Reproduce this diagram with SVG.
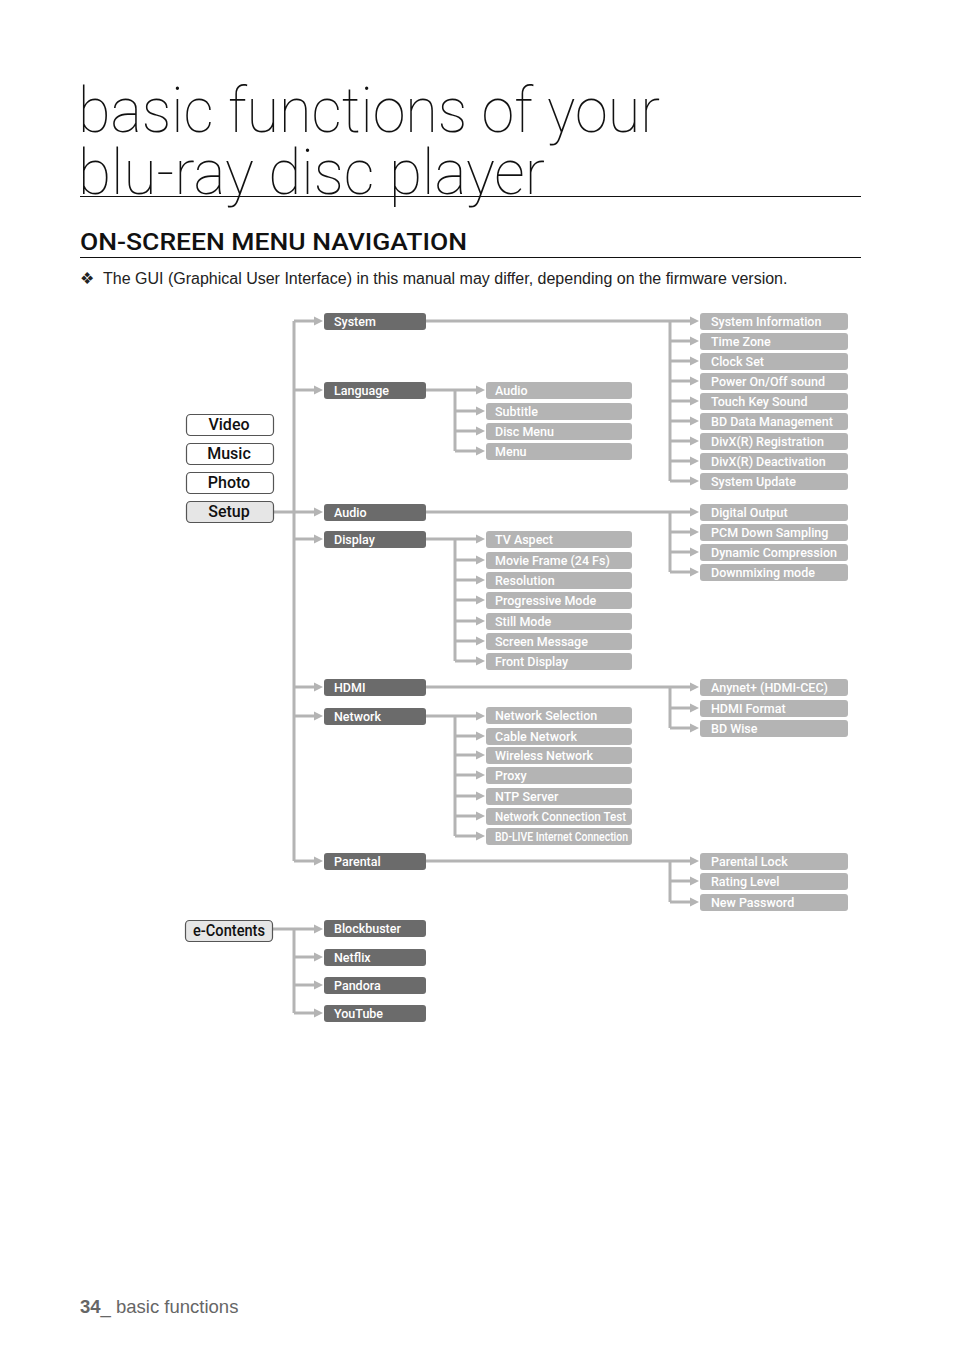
<svg xmlns="http://www.w3.org/2000/svg" width="954" height="1354" viewBox="0 0 954 1354">
<defs>
<marker id="ah" markerUnits="userSpaceOnUse" markerWidth="10" markerHeight="10" refX="5" refY="5" orient="auto"><path d="M0,0.5 L9,5 L0,9.5 z" fill="#b4b4b4"/></marker>
</defs>
<style>
.title{font-family:Roboto,"Liberation Sans",sans-serif;font-weight:100;font-size:63px;fill:#111}
.h2{font-family:Roboto,"Liberation Sans",sans-serif;font-weight:500;font-size:24px;fill:#111}
.note{font-family:"Liberation Sans",Arial,sans-serif;font-size:16px;fill:#222}
.foot{font-family:"Liberation Sans",Arial,sans-serif;font-size:18.5px;fill:#666}
.rule{stroke:#111;stroke-width:1.2}
.mode rect{fill:#fff;stroke:#555;stroke-width:1.2}
.mode.sel rect{fill:#e6e6e6}
.mode text{font-family:Roboto,"Liberation Sans",sans-serif;font-weight:500;font-size:16px;fill:#111;text-anchor:middle}
.dk rect{fill:#6b6b6b}
.lt rect{fill:#b4b4b4}
.dk text,.lt text{font-family:Roboto,"Liberation Sans",sans-serif;font-weight:500;font-size:12.5px;fill:#fff}
#connectors path{fill:none;stroke:#b4b4b4;stroke-width:3}
#connectors path.ar{marker-end:url(#ah)}
</style>
<rect width="954" height="1354" fill="#fff"/>
<text class="title" x="78" y="132" textLength="582" lengthAdjust="spacingAndGlyphs">basic functions of your</text>
<text class="title" x="78" y="194" textLength="467" lengthAdjust="spacingAndGlyphs">blu-ray disc player</text>
<line class="rule" x1="80" y1="196.5" x2="861" y2="196.5"/>
<text class="h2" x="80" y="250" textLength="387" lengthAdjust="spacingAndGlyphs">ON-SCREEN MENU NAVIGATION</text>
<line class="rule" x1="80" y1="257.5" x2="861" y2="257.5"/>
<text class="note" x="80" y="284">❖</text>
<text class="note" x="103" y="284">The GUI (Graphical User Interface) in this manual may differ, depending on the firmware version.</text>
<text class="foot" x="80" y="1313"><tspan font-weight="bold">34</tspan>_ basic functions</text>

<g id="connectors">
<path d="M294,321 V861"/>
<path d="M294,929 V1013"/>
<path class="ar" d="M294,321 H319"/>
<path class="ar" d="M294,390 H319"/>
<path class="ar" d="M273,512 H319"/>
<path class="ar" d="M294,539 H319"/>
<path class="ar" d="M294,687 H319"/>
<path class="ar" d="M294,716 H319"/>
<path class="ar" d="M294,861 H319"/>
<path class="ar" d="M272,929 H319"/>
<path class="ar" d="M294,957 H319"/>
<path class="ar" d="M294,985 H319"/>
<path class="ar" d="M294,1013 H319"/>
<path d="M670,321 V481"/>
<path class="ar" d="M426,321 H695"/>
<path class="ar" d="M670,341 H695"/>
<path class="ar" d="M670,361 H695"/>
<path class="ar" d="M670,381 H695"/>
<path class="ar" d="M670,401 H695"/>
<path class="ar" d="M670,421 H695"/>
<path class="ar" d="M670,441 H695"/>
<path class="ar" d="M670,461 H695"/>
<path class="ar" d="M670,481 H695"/>
<path d="M455,390 V451"/>
<path class="ar" d="M426,390 H481"/>
<path class="ar" d="M455,411 H481"/>
<path class="ar" d="M455,431 H481"/>
<path class="ar" d="M455,451 H481"/>
<path d="M670,512 V572"/>
<path class="ar" d="M426,512 H695"/>
<path class="ar" d="M670,532 H695"/>
<path class="ar" d="M670,552 H695"/>
<path class="ar" d="M670,572 H695"/>
<path d="M455,539 V661"/>
<path class="ar" d="M426,539 H481"/>
<path class="ar" d="M455,560 H481"/>
<path class="ar" d="M455,580 H481"/>
<path class="ar" d="M455,600 H481"/>
<path class="ar" d="M455,621 H481"/>
<path class="ar" d="M455,641 H481"/>
<path class="ar" d="M455,661 H481"/>
<path d="M670,687 V728"/>
<path class="ar" d="M426,687 H695"/>
<path class="ar" d="M670,708 H695"/>
<path class="ar" d="M670,728 H695"/>
<path d="M455,716 V836"/>
<path class="ar" d="M426,716 H481"/>
<path class="ar" d="M455,736 H481"/>
<path class="ar" d="M455,755 H481"/>
<path class="ar" d="M455,775 H481"/>
<path class="ar" d="M455,796 H481"/>
<path class="ar" d="M455,816 H481"/>
<path class="ar" d="M455,836 H481"/>
<path d="M670,861 V902"/>
<path class="ar" d="M426,861 H695"/>
<path class="ar" d="M670,881 H695"/>
<path class="ar" d="M670,902 H695"/>
</g>

<g id="n-video" class="mode"><rect x="186.5" y="414.5" width="87" height="21" rx="4"/><text x="229" y="430">Video</text></g>
<g id="n-music" class="mode"><rect x="186.5" y="443.5" width="87" height="21" rx="4"/><text x="229" y="459">Music</text></g>
<g id="n-photo" class="mode"><rect x="186.5" y="472.5" width="87" height="21" rx="4"/><text x="229" y="488">Photo</text></g>
<g id="n-setup" class="mode sel"><rect x="186.5" y="501.5" width="87" height="21" rx="4"/><text x="229" y="517">Setup</text></g>
<g id="n-econtents" class="mode sel"><rect x="185.5" y="920.5" width="87" height="21" rx="4"/><text x="229" y="936" textLength="72" lengthAdjust="spacingAndGlyphs">e-Contents</text></g>

<g id="n-system" class="dk"><rect x="324" y="313" width="102" height="17" rx="3"/><text x="334" y="326">System</text></g>
<g id="n-language" class="dk"><rect x="324" y="382" width="102" height="17" rx="3"/><text x="334" y="395">Language</text></g>
<g id="n-audio" class="dk"><rect x="324" y="504" width="102" height="17" rx="3"/><text x="334" y="517">Audio</text></g>
<g id="n-display" class="dk"><rect x="324" y="531" width="102" height="17" rx="3"/><text x="334" y="544">Display</text></g>
<g id="n-hdmi" class="dk"><rect x="324" y="679" width="102" height="17" rx="3"/><text x="334" y="692">HDMI</text></g>
<g id="n-network" class="dk"><rect x="324" y="708" width="102" height="17" rx="3"/><text x="334" y="721">Network</text></g>
<g id="n-parental" class="dk"><rect x="324" y="853" width="102" height="17" rx="3"/><text x="334" y="866">Parental</text></g>
<g id="n-blockbuster" class="dk"><rect x="324" y="920" width="102" height="17" rx="3"/><text x="334" y="933">Blockbuster</text></g>
<g id="n-netflix" class="dk"><rect x="324" y="949" width="102" height="17" rx="3"/><text x="334" y="962">Netflix</text></g>
<g id="n-pandora" class="dk"><rect x="324" y="977" width="102" height="17" rx="3"/><text x="334" y="990">Pandora</text></g>
<g id="n-youtube" class="dk"><rect x="324" y="1005" width="102" height="17" rx="3"/><text x="334" y="1018">YouTube</text></g>

<g id="n-sysinfo" class="lt"><rect x="700" y="313" width="148" height="17" rx="3"/><text x="711" y="326">System Information</text></g>
<g id="n-timezone" class="lt"><rect x="700" y="333" width="148" height="17" rx="3"/><text x="711" y="346">Time Zone</text></g>
<g id="n-clockset" class="lt"><rect x="700" y="353" width="148" height="17" rx="3"/><text x="711" y="366">Clock Set</text></g>
<g id="n-power" class="lt"><rect x="700" y="373" width="148" height="17" rx="3"/><text x="711" y="386">Power On/Off sound</text></g>
<g id="n-touch" class="lt"><rect x="700" y="393" width="148" height="17" rx="3"/><text x="711" y="406">Touch Key Sound</text></g>
<g id="n-bddata" class="lt"><rect x="700" y="413" width="148" height="17" rx="3"/><text x="711" y="426">BD Data Management</text></g>
<g id="n-divxreg" class="lt"><rect x="700" y="433" width="148" height="17" rx="3"/><text x="711" y="446">DivX(R) Registration</text></g>
<g id="n-divxdeact" class="lt"><rect x="700" y="453" width="148" height="17" rx="3"/><text x="711" y="466">DivX(R) Deactivation</text></g>
<g id="n-sysupdate" class="lt"><rect x="700" y="473" width="148" height="17" rx="3"/><text x="711" y="486">System Update</text></g>

<g id="n-l-audio" class="lt"><rect x="486" y="382" width="146" height="17" rx="3"/><text x="495" y="395">Audio</text></g>
<g id="n-subtitle" class="lt"><rect x="486" y="403" width="146" height="17" rx="3"/><text x="495" y="416">Subtitle</text></g>
<g id="n-discmenu" class="lt"><rect x="486" y="423" width="146" height="17" rx="3"/><text x="495" y="436">Disc Menu</text></g>
<g id="n-menu" class="lt"><rect x="486" y="443" width="146" height="17" rx="3"/><text x="495" y="456">Menu</text></g>

<g id="n-digout" class="lt"><rect x="700" y="504" width="148" height="17" rx="3"/><text x="711" y="517">Digital Output</text></g>
<g id="n-pcm" class="lt"><rect x="700" y="524" width="148" height="17" rx="3"/><text x="711" y="537">PCM Down Sampling</text></g>
<g id="n-dyn" class="lt"><rect x="700" y="544" width="148" height="17" rx="3"/><text x="711" y="557">Dynamic Compression</text></g>
<g id="n-downmix" class="lt"><rect x="700" y="564" width="148" height="17" rx="3"/><text x="711" y="577">Downmixing mode</text></g>

<g id="n-tvaspect" class="lt"><rect x="486" y="531" width="146" height="17" rx="3"/><text x="495" y="544">TV Aspect</text></g>
<g id="n-movieframe" class="lt"><rect x="486" y="552" width="146" height="17" rx="3"/><text x="495" y="565">Movie Frame (24 Fs)</text></g>
<g id="n-resolution" class="lt"><rect x="486" y="572" width="146" height="17" rx="3"/><text x="495" y="585">Resolution</text></g>
<g id="n-progressive" class="lt"><rect x="486" y="592" width="146" height="17" rx="3"/><text x="495" y="605">Progressive Mode</text></g>
<g id="n-still" class="lt"><rect x="486" y="613" width="146" height="17" rx="3"/><text x="495" y="626">Still Mode</text></g>
<g id="n-screenmsg" class="lt"><rect x="486" y="633" width="146" height="17" rx="3"/><text x="495" y="646">Screen Message</text></g>
<g id="n-front" class="lt"><rect x="486" y="653" width="146" height="17" rx="3"/><text x="495" y="666">Front Display</text></g>

<g id="n-anynet" class="lt"><rect x="700" y="679" width="148" height="17" rx="3"/><text x="711" y="692">Anynet+ (HDMI-CEC)</text></g>
<g id="n-hdmiformat" class="lt"><rect x="700" y="700" width="148" height="17" rx="3"/><text x="711" y="713">HDMI Format</text></g>
<g id="n-bdwise" class="lt"><rect x="700" y="720" width="148" height="17" rx="3"/><text x="711" y="733">BD Wise</text></g>

<g id="n-netsel" class="lt"><rect x="486" y="707" width="146" height="17" rx="3"/><text x="495" y="720">Network Selection</text></g>
<g id="n-cable" class="lt"><rect x="486" y="728" width="146" height="17" rx="3"/><text x="495" y="741">Cable Network</text></g>
<g id="n-wireless" class="lt"><rect x="486" y="747" width="146" height="17" rx="3"/><text x="495" y="760">Wireless Network</text></g>
<g id="n-proxy" class="lt"><rect x="486" y="767" width="146" height="17" rx="3"/><text x="495" y="780">Proxy</text></g>
<g id="n-ntp" class="lt"><rect x="486" y="788" width="146" height="17" rx="3"/><text x="495" y="801">NTP Server</text></g>
<g id="n-nettest" class="lt"><rect x="486" y="808" width="146" height="17" rx="3"/><text x="495" y="821" textLength="131" lengthAdjust="spacingAndGlyphs">Network Connection Test</text></g>
<g id="n-bdlive" class="lt"><rect x="486" y="828" width="146" height="17" rx="3"/><text x="495" y="841" textLength="133" lengthAdjust="spacingAndGlyphs">BD-LIVE Internet Connection</text></g>

<g id="n-plock" class="lt"><rect x="700" y="853" width="148" height="17" rx="3"/><text x="711" y="866">Parental Lock</text></g>
<g id="n-rating" class="lt"><rect x="700" y="873" width="148" height="17" rx="3"/><text x="711" y="886">Rating Level</text></g>
<g id="n-newpw" class="lt"><rect x="700" y="894" width="148" height="17" rx="3"/><text x="711" y="907">New Password</text></g>
</svg>
